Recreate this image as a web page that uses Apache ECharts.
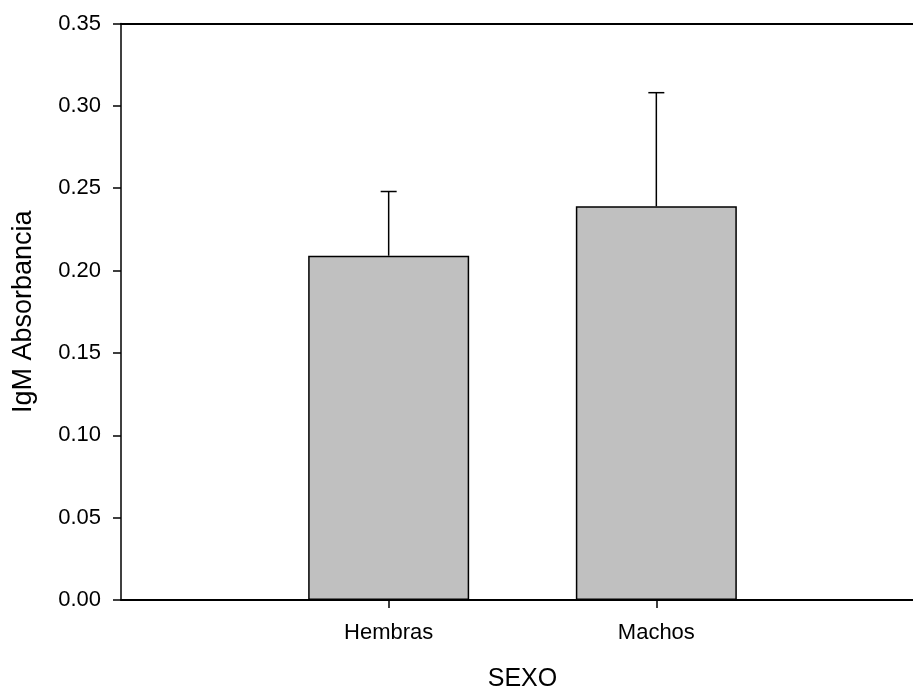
<!DOCTYPE html>
<html>
<head>
<meta charset="utf-8">
<script src="https://cdn.jsdelivr.net/npm/echarts@6/dist/echarts.min.js"></script>
<style>html,body{margin:0;padding:0;background:#fff;}#c{width:913px;height:690px;}</style>
</head>
<body>
<div id="c"></div>
<script>
const categories = ['', 'Hembras', 'Machos', ''];
const means = [null, 0.209, 0.239, null];
const errUpper = [null, 0.248, 0.308, null];
const yTicks = [0, 0.05, 0.10, 0.15, 0.20, 0.25, 0.30, 0.35];

const chart = echarts.init(document.getElementById('c'), null, {renderer: 'canvas'});
const font = 'Liberation Sans, Arial, sans-serif';

const errData = categories.map((c, i) => errUpper[i] == null ? null : [i, means[i], errUpper[i]]).filter(d => d);

chart.setOption({
  animation: false,
  backgroundColor: '#fff',
  grid: {left: 121, width: 803, top: 23.5, bottom: 90, containLabel: false, outerBoundsMode: 'none'},
  xAxis: [{
    type: 'category',
    data: categories,
    boundaryGap: false,
    name: 'SEXO',
    nameLocation: 'middle',
    nameGap: 67,
    nameTextStyle: {fontFamily: font, fontSize: 25, color: '#000'},
    axisLine: {lineStyle: {color: '#000', width: 2}},
    axisTick: {show: true, alignWithLabel: true, length: 8, lineStyle: {color: '#000', width: 1.5},
      interval: (i) => categories[i] !== ''},
    axisLabel: {fontFamily: font, fontSize: 22, color: '#000', margin: 22, interval: 0},
    splitLine: {show: false}
  }, {
    type: 'category',
    data: categories,
    boundaryGap: false,
    position: 'top',
    axisLine: {show: true, lineStyle: {color: '#000', width: 2}},
    axisTick: {show: false},
    axisLabel: {show: false},
    splitLine: {show: false}
  }],
  yAxis: {
    type: 'value',
    min: 0,
    max: 0.35,
    interval: 0.05,
    name: 'IgM Absorbancia',
    nameLocation: 'middle',
    nameGap: 84,
    nameTextStyle: {fontFamily: font, fontSize: 27, color: '#000'},
    axisLine: {show: true, lineStyle: {color: '#000', width: 1.5}},
    axisTick: {show: true, length: 8, lineStyle: {color: '#000', width: 1.5}},
    axisLabel: {fontFamily: font, fontSize: 22, color: '#000', margin: 20,
      formatter: (v) => v.toFixed(2)},
    splitLine: {show: false}
  },
  series: [{
    type: 'bar',
    data: means,
    barWidth: 161,
    itemStyle: {color: '#c0c0c0', borderColor: '#000', borderWidth: 1.5},
    z: 2
  }, {
    type: 'custom',
    data: errData,
    z: 3,
    renderItem: function (params, api) {
      const x = api.value(0);
      const top = api.coord([x, api.value(2)]);
      const base = api.coord([x, api.value(1)]);
      const half = 8;
      const style = {stroke: '#000', lineWidth: 1.5};
      return {
        type: 'group',
        children: [
          {type: 'line', shape: {x1: top[0], y1: top[1], x2: base[0], y2: base[1]}, style: style},
          {type: 'line', shape: {x1: top[0] - half, y1: top[1], x2: top[0] + half, y2: top[1]}, style: style}
        ]
      };
    }
  }]
});
</script>
</body>
</html>
